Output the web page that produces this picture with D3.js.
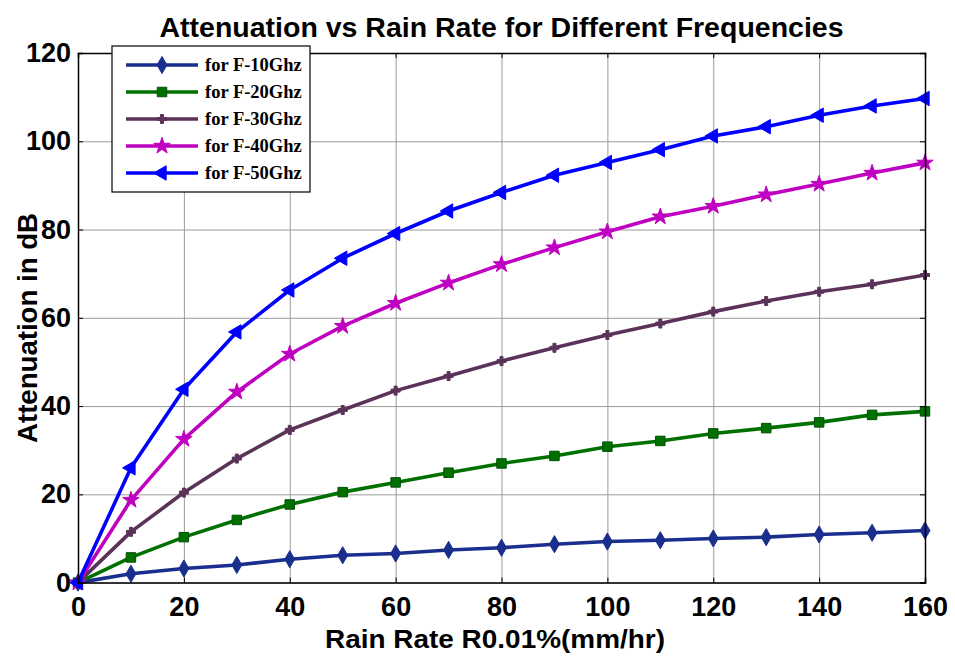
<!DOCTYPE html>
<html>
<head>
<meta charset="utf-8">
<script src="https://cdn.jsdelivr.net/npm/d3@7"></script>
<style>
  body { margin: 0; background: #fff; }
  svg { display: block; }
</style>
</head>
<body>
<div id="chart"></div>
<script>
// data
const rainRate = [0, 10, 20, 30, 40, 50, 60, 70, 80, 90, 100, 110, 120, 130, 140, 150, 160];
const f10 = [0, 2.0, 3.2, 4.0, 5.3, 6.2, 6.6, 7.4, 7.9, 8.7, 9.3, 9.6, 10.0, 10.3, 10.9, 11.3, 11.8];
const f20 = [0, 5.7, 10.3, 14.2, 17.7, 20.5, 22.7, 24.9, 27.0, 28.7, 30.8, 32.1, 33.8, 35.0, 36.3, 38.0, 38.8];
const f30 = [0, 11.5, 20.4, 28.1, 34.6, 39.1, 43.5, 46.8, 50.2, 53.2, 56.1, 58.7, 61.4, 63.8, 65.9, 67.6, 69.7];
const f40 = [0, 18.7, 32.5, 43.2, 51.8, 58.1, 63.3, 67.9, 72.1, 75.9, 79.5, 82.9, 85.3, 87.9, 90.3, 92.8, 95.1];
const f50 = [0, 26.0, 43.8, 56.8, 66.3, 73.5, 79.1, 84.2, 88.4, 92.3, 95.2, 98.1, 101.2, 103.3, 105.9, 108.0, 109.7];
const seriesNames = ["for F-10Ghz", "for F-20Ghz", "for F-30Ghz", "for F-40Ghz", "for F-50Ghz"];
const xTicks = [0, 20, 40, 60, 80, 100, 120, 140, 160];
const yTicks = [0, 20, 40, 60, 80, 100, 120];

const W = 955, H = 657;
const margin = {top: 53, right: 30, bottom: 74.4, left: 78};
const width = W - margin.left - margin.right,
      height = H - margin.top - margin.bottom;

const svg = d3.select("#chart").append("svg")
  .attr("width", W).attr("height", H);

const g = svg.append("g")
  .attr("transform", `translate(${margin.left},${margin.top})`);

const x = d3.scaleLinear().domain([0, 160]).range([0, width]);
const y = d3.scaleLinear().domain([0, 120]).range([height, 0]);

// grid
g.append("g")
  .attr("transform", `translate(0,${height})`)
  .call(d3.axisBottom(x).tickValues(xTicks).tickSize(-height).tickFormat(""))
  .call(a => a.select(".domain").remove())
  .call(a => a.selectAll("line").attr("stroke", "#9a9a9a").attr("stroke-width", 1));
g.append("g")
  .call(d3.axisLeft(y).tickValues(yTicks).tickSize(-width).tickFormat(""))
  .call(a => a.select(".domain").remove())
  .call(a => a.selectAll("line").attr("stroke", "#9a9a9a").attr("stroke-width", 1));

// series
const colors = ["#1a2e8e", "#007000", "#5b3359", "#c000c0", "#0000ff"];
const symbols = [
  {type: d3.symbolDiamond, size: 85, rot: 0},
  {type: d3.symbolSquare, size: 90, rot: 0},
  {type: d3.symbolCross, size: 45, rot: 0},
  {type: d3.symbolStar, size: 85, rot: 0},
  {type: d3.symbolTriangle, size: 90, rot: -90}
];
const allSeries = [f10, f20, f30, f40, f50];

const line = d3.line()
  .x((d, i) => x(rainRate[i]))
  .y(d => y(d));

allSeries.forEach((vals, k) => {
  g.append("path")
    .datum(vals)
    .attr("fill", "none")
    .attr("stroke", colors[k])
    .attr("stroke-width", 3.6)
    .attr("stroke-linejoin", "round")
    .attr("d", line);
  g.selectAll(".m" + k)
    .data(vals)
    .join("path")
    .attr("class", "m" + k)
    .attr("transform", (d, i) => `translate(${x(rainRate[i])},${y(d)}) rotate(${symbols[k].rot})`)
    .attr("d", d3.symbol().type(symbols[k].type).size(symbols[k].size))
    .attr("fill", colors[k])
    .attr("stroke", k === 1 ? "#005000" : colors[k])
    .attr("stroke-width", 1);
});

// axes with inward ticks
g.append("g")
  .attr("transform", `translate(0,${height})`)
  .call(d3.axisBottom(x).tickValues(xTicks).tickSize(-5).tickPadding(14));
g.append("g")
  .call(d3.axisLeft(y).tickValues(yTicks).tickSize(-5).tickPadding(7));
g.append("g")
  .call(d3.axisTop(x).tickValues(xTicks).tickSize(-5).tickFormat(""));
g.append("g")
  .attr("transform", `translate(${width},0)`)
  .call(d3.axisRight(y).tickValues(yTicks).tickSize(-5).tickFormat(""));

g.selectAll(".domain").attr("stroke", "#000").attr("stroke-width", 1.5);
g.selectAll(".tick text")
  .attr("font-family", "Liberation Sans, Arial, sans-serif")
  .attr("font-weight", "bold")
  .attr("font-size", 27)
  .attr("fill", "#000");

// title and axis labels
svg.append("text")
  .attr("x", margin.left + width / 2).attr("y", 37)
  .attr("text-anchor", "middle")
  .attr("font-family", "Liberation Sans, Arial, sans-serif")
  .attr("font-weight", "bold").attr("font-size", 27)
  .attr("textLength", 684).attr("lengthAdjust", "spacingAndGlyphs")
  .text("Attenuation vs Rain Rate for Different Frequencies");

svg.append("text")
  .attr("x", 495).attr("y", 648)
  .attr("text-anchor", "middle")
  .attr("font-family", "Liberation Sans, Arial, sans-serif")
  .attr("font-weight", "bold").attr("font-size", 25)
  .attr("textLength", 340).attr("lengthAdjust", "spacingAndGlyphs")
  .text("Rain Rate R0.01%(mm/hr)");

svg.append("text")
  .attr("transform", "translate(37,328) rotate(-90)")
  .attr("text-anchor", "middle")
  .attr("font-family", "Liberation Sans, Arial, sans-serif")
  .attr("font-weight", "bold").attr("font-size", 28)
  .attr("textLength", 230).attr("lengthAdjust", "spacingAndGlyphs")
  .text("Attenuation  in dB");

// legend
const legend = svg.append("g");
legend.append("rect")
  .attr("x", 112).attr("y", 46).attr("width", 198).attr("height", 146)
  .attr("fill", "#fff").attr("stroke", "#000").attr("stroke-width", 1.2);

seriesNames.forEach((name, k) => {
  const ly = 65 + k * 27;
  legend.append("line")
    .attr("x1", 126).attr("x2", 198).attr("y1", ly).attr("y2", ly)
    .attr("stroke", colors[k]).attr("stroke-width", 3.6);
  legend.append("path")
    .attr("transform", `translate(162,${ly}) rotate(${symbols[k].rot})`)
    .attr("d", d3.symbol().type(symbols[k].type).size(symbols[k].size))
    .attr("fill", colors[k])
    .attr("stroke", k === 1 ? "#005000" : colors[k]);
  legend.append("text")
    .attr("x", 205).attr("y", ly + 6)
    .attr("font-family", "Liberation Serif, Times New Roman, serif")
    .attr("font-weight", "bold").attr("font-size", 18.5)
    .text(name);
});
</script>
</body>
</html>
